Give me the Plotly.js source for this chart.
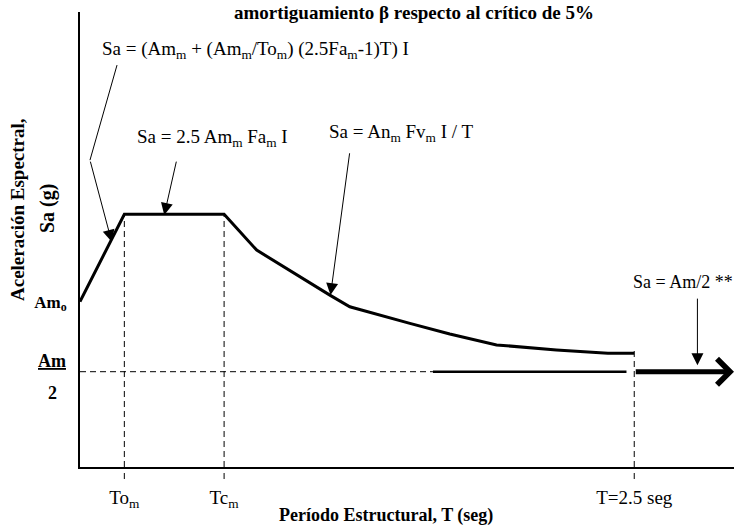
<!DOCTYPE html>
<html>
<head>
<meta charset="utf-8">
<script src="https://cdn.plot.ly/plotly-3.0.1.min.js"></script>
<style>html,body{margin:0;padding:0;background:#fff;}#chart{width:734px;height:527px;}</style>
</head>
<body>
<div id="chart"></div>
<script>
// ---- data (schematic design spectrum) ----
const periodT = [0, 0.2, 0.65, 0.797, 1.127, 1.217, 1.488, 1.668, 1.879, 2.149, 2.381, 2.5];
const spectralSa = [0.654, 1.0, 1.0, 0.858, 0.680, 0.634, 0.568, 0.526, 0.483, 0.463, 0.450, 0.450];
const Tom = 0.2, Tcm = 0.65, Tend = 2.5, Tmax = 2.95;
const Am0 = 0.654, AmHalf = 0.377, plateau = 1.0;
const dashedEndT = 1.592, solidEndT = 2.465;
const xTickVals = [Tom, Tcm, Tend];
const xTickText = ['To<sub>m</sub>', 'Tc<sub>m</sub>', 'T=2.5 seg'];
const yTickVals = [Am0];
const yTickText = ['<b>Am<sub>o</sub></b>'];
const yRange = [0, 1.8];

const serif = 'Liberation Serif, Times New Roman, serif';

const traces = [
  { x: periodT, y: spectralSa, mode: 'lines', line: {color: '#000', width: 3}, hoverinfo: 'skip' },
  { x: [0, dashedEndT], y: [AmHalf, AmHalf], mode: 'lines', line: {color: '#000', width: 1, dash: '6px,4px'}, hoverinfo: 'skip' },
  { x: [dashedEndT, solidEndT], y: [AmHalf, AmHalf], mode: 'lines', line: {color: '#000', width: 2.5}, hoverinfo: 'skip' },
  // bent leader of first formula
  { x: [0.167, 0.045], y: [1.590, 1.214], mode: 'lines', line: {color: '#000', width: 1}, hoverinfo: 'skip' }
];

const dash = {color: '#000', width: 1, dash: '6px,4px'};
const below = -12 / 455;
const shapes = [
  {type: 'line', xref: 'x', yref: 'y', x0: Tom, x1: Tom, y0: 0, y1: plateau, line: dash},
  {type: 'line', xref: 'x', yref: 'paper', x0: Tom, x1: Tom, y0: below, y1: 0, line: dash},
  {type: 'line', xref: 'x', yref: 'y', x0: Tcm, x1: Tcm, y0: 0, y1: plateau, line: dash},
  {type: 'line', xref: 'x', yref: 'paper', x0: Tcm, x1: Tcm, y0: below, y1: 0, line: dash},
  {type: 'line', xref: 'x', yref: 'y', x0: Tend, x1: Tend, y0: 0, y1: 0.463, line: dash},
  {type: 'line', xref: 'x', yref: 'paper', x0: Tend, x1: Tend, y0: below, y1: 0, line: dash}
];

const txt = {family: serif, size: 19, color: '#000'};
const arrowBase = {showarrow: true, arrowcolor: '#000', arrowwidth: 1, arrowhead: 2, arrowsize: 2.4, axref: 'x', ayref: 'y', text: ''};
const annotations = [
  {x: 0.090, y: 1.650, xanchor: 'left', yanchor: 'middle', showarrow: false, font: txt,
   text: 'Sa = (Am<sub>m</sub> + (Am<sub>m</sub>/To<sub>m</sub>) (2.5Fa<sub>m</sub>-1)T) I'},
  {x: 0.248, y: 1.301, xanchor: 'left', yanchor: 'middle', showarrow: false, font: txt,
   text: 'Sa = 2.5 Am<sub>m</sub> Fa<sub>m</sub> I'},
  {x: 1.112, y: 1.321, xanchor: 'left', yanchor: 'middle', showarrow: false, font: txt,
   text: 'Sa = An<sub>m</sub> Fv<sub>m</sub> I / T'},
  {x: 2.484, y: 0.732, xanchor: 'left', yanchor: 'middle', showarrow: false,
   font: {family: serif, size: 18, color: '#000'}, text: 'Sa = Am/2 **'},
  Object.assign({}, arrowBase, {x: 0.143, y: 0.891, ax: 0.045, ay: 1.214}),
  Object.assign({}, arrowBase, {x: 0.380, y: 0.997, ax: 0.436, ay: 1.214}),
  Object.assign({}, arrowBase, {x: 1.130, y: 0.680, ax: 1.217, ay: 1.247}),
  Object.assign({}, arrowBase, {x: 2.785, y: 0.403, ax: 2.785, ay: 0.672}),
  // thick arrow along Am/2 beyond T = 2.5
  {x: Tmax, y: AmHalf, ax: Tend, ay: AmHalf, axref: 'x', ayref: 'y', text: '', showarrow: true,
   arrowcolor: '#000', arrowwidth: 5, arrowhead: 4, arrowsize: 1.0},
  // Am/2 fraction label
  {x: 0, y: AmHalf, xref: 'paper', yref: 'y', xanchor: 'center', yanchor: 'middle', xshift: -28, yshift: 11,
   showarrow: false, font: {family: serif, size: 18, color: '#000'}, text: '<b><u>Am</u></b>'},
  {x: 0, y: AmHalf, xref: 'paper', yref: 'y', xanchor: 'center', yanchor: 'middle', xshift: -28, yshift: -21,
   showarrow: false, font: {family: serif, size: 18, color: '#000'}, text: '<b>2</b>'},
  // y title (two lines)
  {x: 0, y: (467 - 210) / 455, xref: 'paper', yref: 'paper', xanchor: 'center', yanchor: 'middle', xshift: -63,
   showarrow: false, textangle: -90, font: {family: serif, size: 19, color: '#000'}, text: '<b>Aceleración Espectral,</b>'},
  {x: 0, y: (467 - 209) / 455, xref: 'paper', yref: 'paper', xanchor: 'center', yanchor: 'middle', xshift: -33,
   showarrow: false, textangle: -90, font: {family: serif, size: 20, color: '#000'}, text: '<b>Sa (g)</b>'},
  // x title
  {x: (386 - 80) / 654, y: -(515 - 467) / 455, xref: 'paper', yref: 'paper', xanchor: 'center', yanchor: 'middle',
   showarrow: false, font: {family: serif, size: 18, color: '#000'}, text: '<b>Período Estructural, T (seg)</b>'}
];

const layout = {
  width: 734, height: 527,
  margin: {l: 80, r: 0, t: 12, b: 60, pad: 0},
  paper_bgcolor: '#fff', plot_bgcolor: '#fff',
  showlegend: false,
  title: {text: '<b>amortiguamiento β respecto al crítico de 5%</b>', font: {family: serif, size: 19, color: '#000'},
          x: 414 / 734, xanchor: 'center', y: 1 - 12 / 527, yanchor: 'middle', xref: 'container', yref: 'container'},
  xaxis: {range: [0, Tmax], showline: true, linecolor: '#000', linewidth: 2, showgrid: false, zeroline: false,
          ticks: '', tickvals: xTickVals, ticktext: xTickText, tickfont: {family: serif, size: 19, color: '#000'},
          ticklabelstandoff: 12, fixedrange: true},
  yaxis: {range: yRange, showline: true, linecolor: '#000', linewidth: 2, showgrid: false, zeroline: false,
          ticks: '', tickvals: yTickVals, ticktext: yTickText, tickfont: {family: serif, size: 17, color: '#000'},
          ticklabelstandoff: 8, fixedrange: true},
  shapes: shapes,
  annotations: annotations
};

Plotly.newPlot('chart', traces, layout, {displayModeBar: false, staticPlot: true});
</script>
</body>
</html>
